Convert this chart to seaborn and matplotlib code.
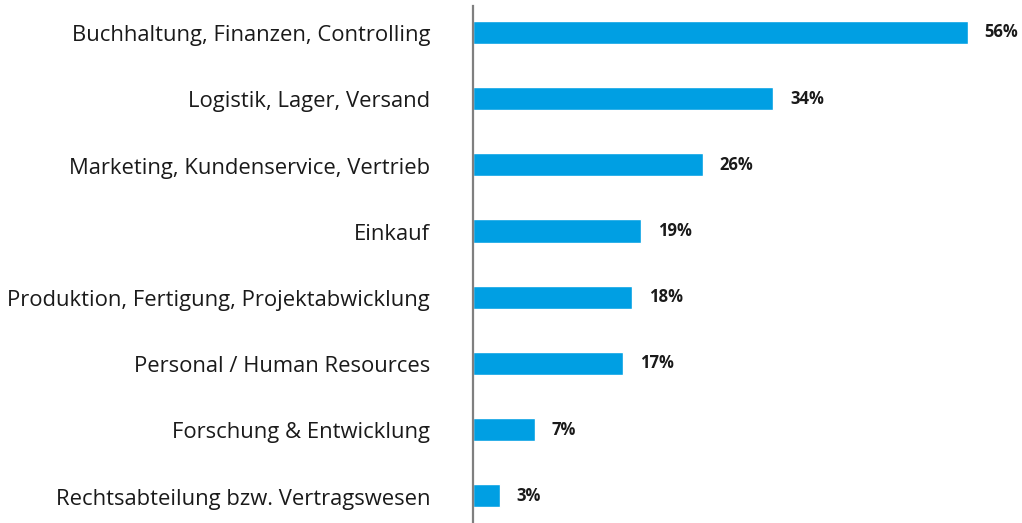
import matplotlib
matplotlib.use('Agg')
import matplotlib.pyplot as plt
import seaborn as sns
import pandas as pd

# data
categories = ['Buchhaltung, Finanzen, Controlling',
              'Logistik, Lager, Versand',
              'Marketing, Kundenservice, Vertrieb',
              'Einkauf',
              'Produktion, Fertigung, Projektabwicklung',
              'Personal / Human Resources',
              'Forschung & Entwicklung',
              'Rechtsabteilung bzw. Vertragswesen']
values = [56, 34, 26, 19, 18, 17, 7, 3]
value_labels = ['56%', '34%', '26%', '19%', '18%', '17%', '7%', '3%']

df = pd.DataFrame({'cat': categories, 'val': values})

sns.set_style('white')
plt.rcParams['font.family'] = ['Open Sans', 'DejaVu Sans']

W, H = 1022, 523
fig = plt.figure(figsize=(W/100, H/100), dpi=100)
ax = fig.add_axes([473/W, 0, 530/W, 517/H])

sns.barplot(data=df, x='val', y='cat', orient='h', color='#009FE3',
            saturation=1, width=0.35, ax=ax)

ax.set_xlim(0, 60)
ax.set_ylim(7.41, -0.4)
for s in ['top', 'right', 'bottom']:
    ax.spines[s].set_visible(False)
ax.spines['left'].set_color('#7f7f7f')
ax.spines['left'].set_linewidth(1.6)
ax.set_xticks([])
ax.set_xlabel('')
ax.set_ylabel('')
ax.set_yticks(range(len(categories)))
ax.set_yticklabels([])
ax.tick_params(axis='y', length=0)

# category labels, a bit below the bar centre as in the reference
tr = ax.get_yaxis_transform()
for i, c in enumerate(categories):
    ax.text(-43/530, i + 0.05, c, transform=tr, ha='right', va='center',
            fontsize=15.8, color='#1a1a1a')

for i, (v, lab) in enumerate(zip(values, value_labels)):
    ax.text(v + 1.9, i, lab, va='center', ha='left', fontsize=12,
            fontweight='bold', color='#1a1a1a')

fig.savefig('out.png', dpi=100)
